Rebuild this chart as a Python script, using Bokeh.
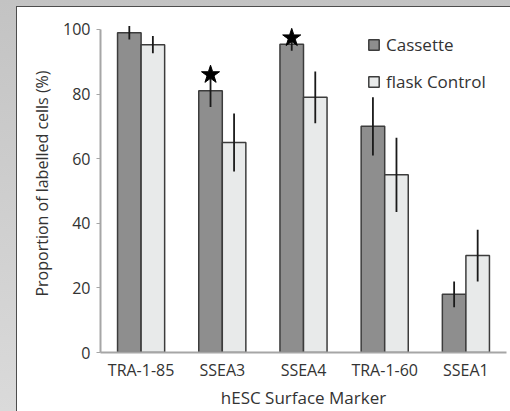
from bokeh.plotting import figure
from bokeh.models import (FactorRange, Range1d, FixedTicker, ColumnDataSource,
                          Legend, LegendItem)
from bokeh.transform import dodge
from bokeh.embed import file_html
from bokeh.resources import INLINE

# ---- data ----
markers = ["TRA-1-85", "SSEA3", "SSEA4", "TRA-1-60", "SSEA1"]
cassette = [99, 81, 95.4, 70, 18]
cassette_err = [2.1, 5, 2, 9, 4]
control = [95.3, 65, 79, 55, 30]
control_err = [2.7, 9, 8, 11.5, 8]
significant = [False, True, True, False, False]
y_ticks = [0, 20, 40, 60, 80, 100]

FONT = "Open Sans"
TXT = "#333333"
AX = "#a6a6a6"

src = ColumnDataSource(dict(
    m=markers, cas=cassette, con=control,
    cas_lo=[v - e for v, e in zip(cassette, cassette_err)],
    cas_hi=[v + e for v, e in zip(cassette, cassette_err)],
    con_lo=[v - e for v, e in zip(control, control_err)],
    con_hi=[v + e for v, e in zip(control, control_err)],
))
star_src = ColumnDataSource(dict(
    m=[m for m, s in zip(markers, significant) if s],
    y=[v + e for v, e, s in zip(cassette, cassette_err, significant) if s],
))

p = figure(width=510, height=411, output_backend="svg", toolbar_location=None,
           x_range=FactorRange(factors=markers, range_padding=0),
           y_range=Range1d(0, 104.63),
           min_border_left=100, min_border_right=4, min_border_top=14,
           min_border_bottom=58)
p.background_fill_color = "white"
p.border_fill_color = None
p.styles = {"background": (
    "linear-gradient(white, white) no-repeat 17px 7px / calc(100% - 17px) calc(100% - 7px), "
    "linear-gradient(#4d4d4d, #4d4d4d) no-repeat 16px 6px / calc(100% - 16px) calc(100% - 6px), "
    "linear-gradient(to bottom, #c3c3c3, #dadada)")}
p.outline_line_color = None
p.xgrid.grid_line_color = None
p.ygrid.grid_line_color = None

off = 0.145
bw = 0.29
r_cas = p.vbar(x=dodge("m", -off, range=p.x_range), top="cas", width=bw, source=src,
               fill_color="#8e8e8e", line_color="#3c3c3c", line_width=1.5)
r_con = p.vbar(x=dodge("m", off, range=p.x_range), top="con", width=bw, source=src,
               fill_color="#e8eaea", line_color="#3c3c3c", line_width=1.5)

p.segment(x0=dodge("m", -off, range=p.x_range), x1=dodge("m", -off, range=p.x_range),
          y0="cas_lo", y1="cas_hi", source=src, line_color="#1a1a1a", line_width=1.8)
p.segment(x0=dodge("m", off, range=p.x_range), x1=dodge("m", off, range=p.x_range),
          y0="con_lo", y1="con_hi", source=src, line_color="#1a1a1a", line_width=1.8)

p.scatter(x=dodge("m", -off, range=p.x_range), y="y", source=star_src, marker="star",
          size=19, fill_color="black", line_color="black")

# axes
p.yaxis.ticker = FixedTicker(ticks=y_ticks)
p.yaxis.bounds = (0, 100)
p.yaxis.axis_line_color = AX
p.yaxis.axis_line_width = 2
p.yaxis.major_tick_line_color = AX
p.yaxis.major_tick_out = 4
p.yaxis.major_tick_in = 0
p.yaxis.minor_tick_line_color = None
p.yaxis.major_label_standoff = 6
p.yaxis.major_label_text_font = FONT
p.yaxis.major_label_text_font_size = "16px"
p.yaxis.major_label_text_color = TXT
p.yaxis.axis_label = "Proportion of labelled cells (%)"
p.yaxis.axis_label_text_font = FONT
p.yaxis.axis_label_text_font_size = "16px"
p.yaxis.axis_label_text_font_style = "normal"
p.yaxis.axis_label_text_color = TXT
p.yaxis.axis_label_standoff = 7

p.xaxis.axis_line_color = AX
p.xaxis.axis_line_width = 2
p.xaxis.major_tick_line_color = None
p.xaxis.minor_tick_line_color = None
p.xaxis.major_label_standoff = 0
p.xaxis.major_label_text_font = FONT
p.xaxis.major_label_text_font_size = "16px"
p.xaxis.major_label_text_color = TXT
p.xaxis.axis_label = "hESC Surface Marker"
p.xaxis.axis_label_text_font = FONT
p.xaxis.axis_label_text_font_size = "17px"
p.xaxis.axis_label_text_font_style = "normal"
p.xaxis.axis_label_text_color = TXT
p.xaxis.axis_label_standoff = 2

legend = Legend(items=[LegendItem(label="Cassette", renderers=[r_cas]),
                       LegendItem(label="flask Control", renderers=[r_con])],
                location=(267, 259), orientation="vertical")
legend.padding = 0
legend.margin = 0
legend.spacing = 14
legend.label_height = 20
legend.glyph_width = 13
legend.glyph_height = 13
legend.label_standoff = 6
legend.label_text_font = FONT
legend.label_text_font_size = "17px"
legend.label_text_color = TXT
legend.border_line_alpha = 0
legend.background_fill_alpha = 0
p.add_layout(legend)

open("out.html", "w").write(file_html(p, INLINE))
